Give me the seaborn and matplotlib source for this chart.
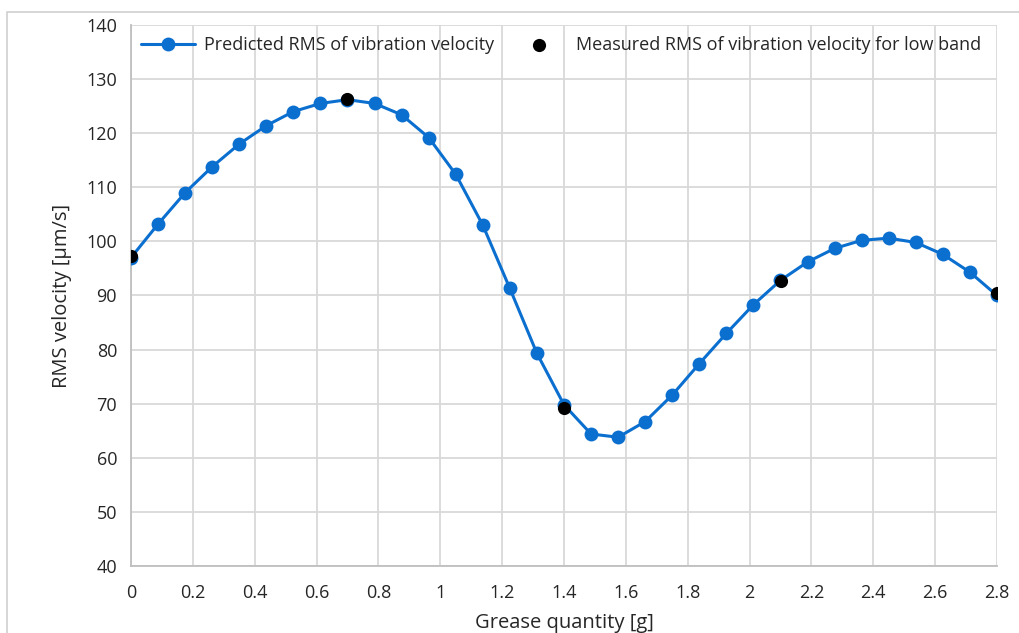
import numpy as np
import pandas as pd
import matplotlib.pyplot as plt
import seaborn as sns
from matplotlib.patches import Rectangle

# Data
grease_pred = [i * 0.0875 for i in range(33)]
rms_pred = [97.0, 103.2, 109.0, 113.8, 118.0, 121.4, 124.0, 125.5, 126.2, 125.5,
            123.4, 119.2, 112.4, 103.0, 91.3, 79.3, 69.8, 64.4, 63.8, 66.7,
            71.6, 77.4, 83.0, 88.3, 92.8, 96.2, 98.7, 100.2, 100.6, 99.8,
            97.6, 94.3, 90.0]
grease_meas = [0.0, 0.7, 1.4, 2.1, 2.8]
rms_meas = [97.3, 126.3, 69.2, 92.7, 90.4]

x_ticks = [0, 0.2, 0.4, 0.6, 0.8, 1, 1.2, 1.4, 1.6, 1.8, 2, 2.2, 2.4, 2.6, 2.8]
x_tick_labels = ["0", "0.2", "0.4", "0.6", "0.8", "1", "1.2", "1.4", "1.6",
                 "1.8", "2", "2.2", "2.4", "2.6", "2.8"]
y_ticks = [40, 50, 60, 70, 80, 90, 100, 110, 120, 130, 140]

pred_df = pd.DataFrame({"x": grease_pred, "y": rms_pred})
meas_df = pd.DataFrame({"x": grease_meas, "y": rms_meas})

sns.set_style("white")
plt.rcParams['font.family'] = ['Open Sans', 'DejaVu Sans']

fig = plt.figure(figsize=(10.2, 6.33), dpi=100)
ax = fig.add_axes([131 / 1020, 1 - 566 / 633, (997 - 131) / 1020, (566 - 25) / 633])

# outer frame of the figure
fig.patches.append(Rectangle((7 / 1020, -0.1), 1.2, 1 - 12 / 633 + 0.1,
                             transform=fig.transFigure, fill=False,
                             edgecolor="#d0d0d0", linewidth=1.2, zorder=0))

blue = "#0b6fcf"
sns.lineplot(ax=ax, data=pred_df, x="x", y="y", color=blue, linewidth=2.2,
             marker="o", markersize=10, markeredgewidth=0,
             label="Predicted RMS of vibration velocity", zorder=3)
sns.scatterplot(ax=ax, data=meas_df, x="x", y="y", color="black", s=90,
                linewidth=0, label="Measured RMS of vibration velocity for low band",
                zorder=4)

ax.set_xlim(0, 2.8)
ax.set_ylim(40, 140)
ax.set_xticks(x_ticks)
ax.set_xticklabels(x_tick_labels)
ax.set_yticks(y_ticks)
ax.grid(True, color="#d9d9d9", linewidth=1.3)
ax.set_axisbelow(True)
for s in ["top", "right"]:
    ax.spines[s].set_visible(False)
for s in ["left", "bottom"]:
    ax.spines[s].set_color("#bfbfbf")
    ax.spines[s].set_linewidth(1.3)
ax.tick_params(axis="x", length=0, labelsize=13, colors="#262626", pad=13)
ax.tick_params(axis="y", length=0, labelsize=13, colors="#262626", pad=10)

ax.set_xlabel("Grease quantity [g]", fontsize=14.5, color="#262626", labelpad=8)
ax.set_ylabel("RMS velocity [µm/s]", fontsize=14.5, color="#262626", labelpad=10)

leg = ax.legend(loc="upper left", ncol=2, frameon=False, fontsize=13,
                bbox_to_anchor=(-0.003, 1.003), columnspacing=1.0, handletextpad=0.5,
                handlelength=3.0, borderaxespad=0.3)
for t in leg.get_texts():
    t.set_color("#262626")

fig.savefig("out.png", dpi=100)
